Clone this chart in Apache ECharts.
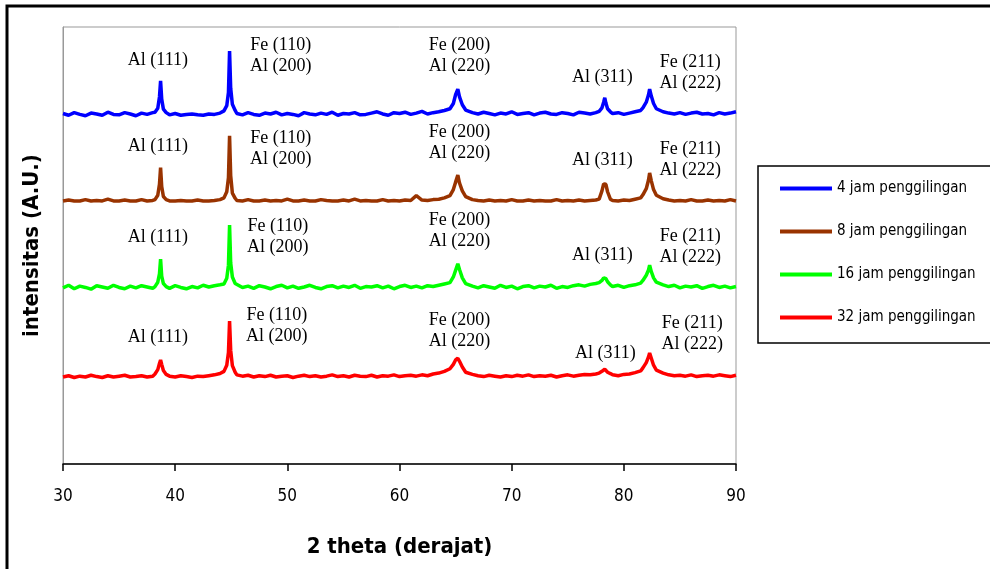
<!DOCTYPE html>
<html>
<head>
<meta charset="utf-8">
<script src="https://cdn.jsdelivr.net/npm/echarts@6/dist/echarts.min.js"></script>
<style>
html,body{margin:0;padding:0;background:#fff;}
#chart{width:990px;height:569px;}
</style>
</head>
<body>
<div id="chart"></div>
<script>
// 2 theta (degrees) sample positions
const theta = [
  30,30.5,31,31.5,32,32.5,33,33.5,34,34.5,35,35.5,36,36.5,37,37.5,38,
  38.2,38.45,38.6,38.7,38.8,38.95,39.2,
  39.5,40,40.5,41,41.5,42,42.5,43,43.5,44,
  44.35,44.6,44.75,44.85,44.95,45.1,45.35,
  45.5,46,46.5,47,47.5,48,48.5,49,49.5,50,50.5,51,51.5,52,52.5,53,53.5,54,54.5,55,55.5,56,56.5,57,57.5,58,58.5,59,59.5,60,60.5,61,61.5,62,62.5,63,63.5,64,
  64.5,64.8,65,65.2,65.35,65.6,65.9,
  66.5,67,67.5,68,68.5,69,69.5,70,70.5,71,71.5,72,72.5,73,73.5,74,74.5,75,75.5,76,76.5,77,77.5,
  77.8,78.05,78.2,78.3,78.4,78.55,78.8,
  79,79.5,80,80.5,81,81.5,
  81.7,82.0,82.2,82.3,82.45,82.65,82.9,
  83.5,84,84.5,85,85.5,86,86.5,87,87.5,88,88.5,89,89.5,90
];

// intensities (A.U., curves shown with vertical offsets as in the figure)
const jam4 = [
  80.2,79.8,80.4,80.0,79.7,80.3,80.1,79.8,80.5,80.0,79.9,80.4,80.1,79.7,80.3,80.0,80.4,
  80.5,81.4,84.0,87.7,83.5,81.2,80.4,
  79.9,80.2,79.8,80.0,80.1,79.9,79.8,80.1,80.0,80.3,
  80.8,82.0,85.0,94.5,86.0,82.3,80.9,
  80.2,79.9,80.4,80.0,79.8,80.3,80.1,80.5,79.9,80.2,80.0,79.7,80.4,80.1,79.9,80.3,80.0,80.5,79.8,80.2,80.1,80.4,79.9,80.0,80.3,80.6,80.1,79.8,80.4,80.2,80.5,80.0,80.3,80.7,80.1,80.4,80.6,80.9,
  81.3,82.5,84.5,85.8,84.0,82.2,81.0,
  80.4,80.1,80.5,80.2,79.9,80.3,80.1,80.6,80.0,80.2,80.4,79.9,80.3,80.5,80.1,80.0,80.4,80.2,79.9,80.5,80.3,80.1,80.4,
  80.7,81.5,82.8,83.8,82.6,81.3,80.6,
  80.2,80.4,80.0,80.3,80.6,80.9,
  81.5,82.8,84.5,85.8,84.2,82.5,81.3,
  80.6,80.3,80.1,80.4,80.0,80.3,80.5,80.1,80.2,79.9,80.4,80.1,80.3,80.6
];
const jam8 = [
  60.2,60.4,60.2,60.2,60.5,60.2,60.3,60.2,60.6,60.2,60.2,60.4,60.2,60.2,60.5,60.2,60.3,
  60.5,61.5,64.0,67.8,63.5,61.2,60.5,
  60.2,60.2,60.3,60.2,60.2,60.4,60.2,60.2,60.3,60.5,
  60.9,62.3,65.5,75.1,66.0,62.0,60.8,
  60.3,60.2,60.5,60.2,60.2,60.4,60.2,60.3,60.2,60.6,60.2,60.2,60.4,60.2,60.2,60.5,60.3,60.2,60.2,60.4,60.2,60.6,60.2,60.3,60.2,60.2,60.5,60.2,60.3,60.2,60.4,60.3,61.4,60.4,60.3,60.5,60.6,60.9,
  61.4,62.8,64.5,66.1,64.3,62.5,61.2,
  60.5,60.3,60.2,60.4,60.2,60.3,60.2,60.5,60.2,60.2,60.4,60.2,60.3,60.2,60.2,60.5,60.2,60.3,60.2,60.4,60.2,60.3,60.4,
  60.6,62.5,64.1,64.2,64.0,62.3,60.6,
  60.3,60.2,60.4,60.3,60.6,60.9,
  61.6,63.0,65.0,66.6,64.8,62.8,61.5,
  60.7,60.4,60.2,60.3,60.2,60.5,60.2,60.2,60.4,60.2,60.3,60.2,60.5,60.2
];
const jam16 = [
  40.3,40.9,40.1,40.7,40.4,40.0,40.8,40.5,40.2,40.9,40.4,40.1,40.7,40.3,40.8,40.5,40.2,
  40.6,41.6,43.5,46.9,43.0,41.3,40.6,
  40.2,40.8,40.4,40.1,40.6,40.3,40.9,40.5,40.8,41.0,
  41.2,42.5,45.5,54.7,46.0,42.8,41.3,
  40.9,40.4,40.7,40.2,40.8,40.5,40.1,40.6,40.9,40.3,40.7,40.2,40.5,40.9,40.4,40.1,40.6,40.8,40.3,40.7,40.4,40.9,40.2,40.6,40.5,40.8,40.3,40.7,40.1,40.6,40.9,40.4,40.7,40.3,40.8,40.6,40.9,41.2,
  41.5,42.8,44.3,45.8,44.5,42.6,41.3,
  40.7,40.3,40.8,40.5,40.2,40.9,40.4,40.7,40.1,40.6,40.8,40.3,40.7,40.5,40.9,40.2,40.6,40.4,40.8,41.0,40.7,41.1,41.3,
  41.5,42.0,42.6,43.0,42.4,41.7,41.0,
  40.6,40.9,40.4,40.8,41.0,41.4,
  42.0,43.2,44.4,45.5,44.0,42.6,41.6,
  41.0,40.6,40.9,40.3,40.7,40.5,40.8,40.2,40.6,40.9,40.4,40.7,40.3,40.6
];
const jam32 = [
  19.9,20.2,19.8,20.1,19.9,20.3,20.0,19.8,20.2,19.9,20.1,20.3,19.9,20.0,20.2,19.9,20.1,
  20.6,21.6,23.0,23.8,22.8,21.4,20.5,
  20.1,19.9,20.2,20.0,19.8,20.1,20.0,20.2,20.4,20.7,
  21.2,22.6,25.5,32.7,26.0,22.5,21.0,
  20.4,20.1,20.3,19.9,20.2,20.0,20.3,19.9,20.1,20.2,19.8,20.1,20.3,20.0,20.2,19.9,20.1,20.4,20.0,20.2,19.9,20.3,20.1,20.0,20.3,19.9,20.2,20.1,20.4,20.0,20.2,20.3,20.1,20.4,20.2,20.6,20.8,21.2,
  21.8,22.8,23.8,24.2,23.5,22.2,21.0,
  20.5,20.2,20.0,20.3,20.1,19.9,20.2,20.0,20.3,20.1,20.4,20.0,20.2,20.1,20.3,19.9,20.2,20.4,20.1,20.3,20.5,20.4,20.6,
  20.8,21.2,21.5,21.7,21.4,21.0,20.7,
  20.4,20.2,20.5,20.6,20.9,21.3,
  22.0,23.2,24.5,25.4,24.2,22.6,21.5,
  20.8,20.4,20.2,20.3,20.1,20.4,20.0,20.2,20.3,20.1,20.4,20.2,20.0,20.3
];

const seriesNames = ['4 jam penggilingan','8 jam penggilingan','16 jam penggilingan','32 jam penggilingan'];
const xTicks = [30,40,50,60,70,80,90];
const peakNames = ['Al (111)','Fe (110)\nAl (200)','Fe (200)\nAl (220)','Al (311)','Fe (211)\nAl (222)'];

const seriesData = [jam4, jam8, jam16, jam32];
const colors = ['#0000ff','#993300','#00ff00','#ff0000'];
// label anchor positions (data coords) for each curve's peak annotations
const labelAnchors = [
  [[38.46,92.4],[49.41,93.4],[65.35,93.4],[78.09,88.6],[85.92,89.5]],
  [[38.46,72.8],[49.41,72.1],[65.35,73.5],[78.09,69.6],[85.92,69.6]],
  [[38.46,51.9],[49.15,51.9],[65.35,53.3],[78.09,47.8],[85.92,49.7]],
  [[38.46,29.1],[49.06,31.6],[65.35,30.4],[78.35,25.4],[86.10,29.7]]
];

const sansNarrow = "'Liberation Sans Narrow','DejaVu Sans Condensed','Liberation Sans',Arial,sans-serif";

const chart = echarts.init(document.getElementById('chart'), null, {renderer:'canvas'});

const series = seriesData.map((ys, si) => ({
  name: seriesNames[si],
  type: 'line',
  data: theta.map((t, i) => [t, ys[i]]),
  symbol: 'none',
  showSymbol: false,
  lineStyle: {color: colors[si], width: 3.5},
  itemStyle: {color: colors[si]},
  emphasis: {disabled: true},
  silent: true,
  markPoint: {
    silent: true,
    symbol: 'circle',
    symbolSize: 1,
    itemStyle: {color: 'rgba(0,0,0,0)'},
    label: {
      show: true,
      position: 'inside',
      formatter: p => p.name,
      fontFamily: "'Liberation Serif','Times New Roman',serif",
      fontSize: 18,
      lineHeight: 21,
      color: '#000',
      align: 'center'
    },
    data: labelAnchors[si].map((c, k) => ({name: peakNames[k], coord: c}))
  }
}));

const option = {
  animation: false,
  backgroundColor: '#fff',
  grid: {left: 63, right: 254, top: 27, bottom: 105, show: true, borderColor: '#999', borderWidth: 1},
  xAxis: {
    type: 'value', min: 30, max: 90, interval: 10,
    name: '2 theta (derajat)', nameLocation: 'middle', nameGap: 72,
    nameTextStyle: {fontFamily: sansNarrow, fontWeight: 'bold', fontSize: 22, color: '#000'},
    axisLine: {show: true, lineStyle: {color: '#000', width: 1.5}},
    axisTick: {show: true, inside: false, length: 7, lineStyle: {color: '#000', width: 1.5}},
    axisLabel: {margin: 24, fontFamily: sansNarrow, fontSize: 17, color: '#000',
      formatter: v => xTicks.includes(v) ? String(v) : ''},
    splitLine: {show: false}
  },
  yAxis: {
    type: 'value', min: 0, max: 100,
    name: 'intensitas (A.U.)', nameLocation: 'middle', nameGap: 20, nameRotate: 90,
    nameTextStyle: {fontFamily: sansNarrow, fontWeight: 'bold', fontSize: 22, color: '#000'},
    axisLine: {show: true, lineStyle: {color: '#999', width: 1}},
    axisTick: {show: false},
    axisLabel: {show: false},
    splitLine: {show: false}
  },
  legend: {
    orient: 'vertical',
    left: 780, top: 180,
    padding: 0,
    itemGap: 26,
    itemWidth: 52, itemHeight: 4,
    icon: 'rect',
    selectedMode: false,
    data: seriesNames,
    textStyle: {fontFamily: sansNarrow, fontSize: 15, color: '#000', lineHeight: 17}
  },
  graphic: [
    {type: 'rect', silent: true, z: 100, shape: {x: 7, y: 6, width: 1000, height: 600},
      style: {fill: 'none', stroke: '#000', lineWidth: 3}},
    {type: 'rect', silent: true, z: 100, shape: {x: 758, y: 166, width: 260, height: 177},
      style: {fill: 'none', stroke: '#000', lineWidth: 1.5}}
  ],
  series: series
};
chart.setOption(option);
</script>
</body>
</html>
